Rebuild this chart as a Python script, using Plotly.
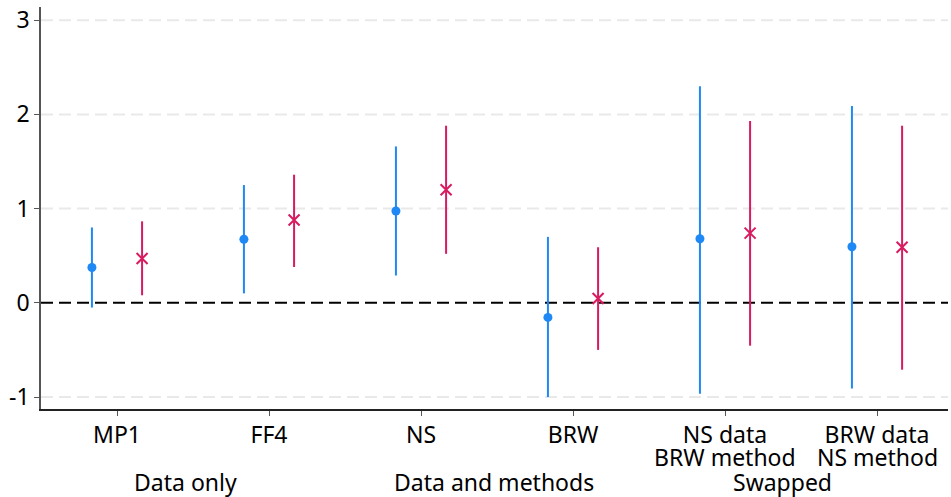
import plotly.graph_objects as go

cat_line1 = ["MP1", "FF4", "NS", "BRW", "NS data", "BRW data"]
cat_line2 = ["", "", "", "", "BRW method", "NS method"]
cat_pos = [1, 2, 3, 4, 5, 6]

blue_est = [0.375, 0.675, 0.975, -0.155, 0.68, 0.595]
blue_hi = [0.80, 1.25, 1.66, 0.70, 2.30, 2.09]
blue_lo = [-0.05, 0.10, 0.29, -1.00, -0.965, -0.91]

red_est = [0.47, 0.88, 1.20, 0.046, 0.74, 0.59]
red_hi = [0.865, 1.36, 1.88, 0.59, 1.93, 1.88]
red_lo = [0.08, 0.38, 0.52, -0.50, -0.455, -0.71]

groups = ["Data only", "Data and methods", "Swapped"]
group_pos = [1.45, 3.48, 5.38]

y_ticks = [-1, 0, 1, 2, 3]
y_ticktext = ["-1", "0", "1", "2", "3"]

offset = 0.165
BLUE = "#1E88F5"
RED = "#D81B60"
FONT = "Noto Sans"
FS = 23

fig = go.Figure()

# light dashed gridlines at the non-zero y ticks, black dashed reference line at 0
for yv in y_ticks:
    if yv == 0:
        fig.add_hline(y=yv, line=dict(color="black", width=2, dash="12px,6px"), layer="below")
    else:
        fig.add_hline(y=yv, line=dict(color="#e9e9e9", width=2, dash="12px,6px"), layer="below")

fig.add_trace(go.Scatter(
    x=[p - offset for p in cat_pos], y=blue_est, mode="markers",
    marker=dict(symbol="circle", size=9, color=BLUE),
    error_y=dict(type="data", symmetric=False,
                 array=[h - e for h, e in zip(blue_hi, blue_est)],
                 arrayminus=[e - l for e, l in zip(blue_est, blue_lo)],
                 width=0, thickness=2, color=BLUE),
    showlegend=False))
fig.add_trace(go.Scatter(
    x=[p + offset for p in cat_pos], y=red_est, mode="markers",
    marker=dict(symbol="x-thin", size=11, color=RED, line=dict(color=RED, width=2)),
    error_y=dict(type="data", symmetric=False,
                 array=[h - e for h, e in zip(red_hi, red_est)],
                 arrayminus=[e - l for e, l in zip(red_est, red_lo)],
                 width=0, thickness=2, color=RED),
    showlegend=False))

for t, p in zip(cat_line2, cat_pos):
    if t:
        fig.add_annotation(x=p, y=-0.1206, xref="x", yref="paper", text=t,
                           showarrow=False, yanchor="middle", xanchor="center",
                           font=dict(family=FONT, size=FS, color="black"))

for g, gp in zip(groups, group_pos):
    fig.add_annotation(x=gp, y=-0.1816, xref="x", yref="paper", text=g,
                       showarrow=False, yanchor="middle", xanchor="center",
                       font=dict(family=FONT, size=FS, color="black"))

fig.update_layout(
    width=951, height=497,
    margin=dict(l=41, r=3, t=7, b=88),
    plot_bgcolor="white", paper_bgcolor="white",
    font=dict(family=FONT, size=FS, color="black"),
    xaxis=dict(range=[0.5, 6.467], tickvals=cat_pos, ticktext=cat_line1,
               showgrid=False, zeroline=False, showline=True, linecolor="#222",
               linewidth=1.5, ticks="outside", ticklen=5, tickcolor="#555",
               tickfont=dict(family=FONT, size=FS, color="black")),
    yaxis=dict(range=[-1.127, 3.14], tickvals=y_ticks, ticktext=y_ticktext,
               showgrid=False, zeroline=False, showline=True, linecolor="#555", linewidth=1.5,
               ticks="outside", ticklen=5, tickcolor="#555",
               tickfont=dict(family=FONT, size=FS, color="black")),
)

fig.write_html("out.html")
